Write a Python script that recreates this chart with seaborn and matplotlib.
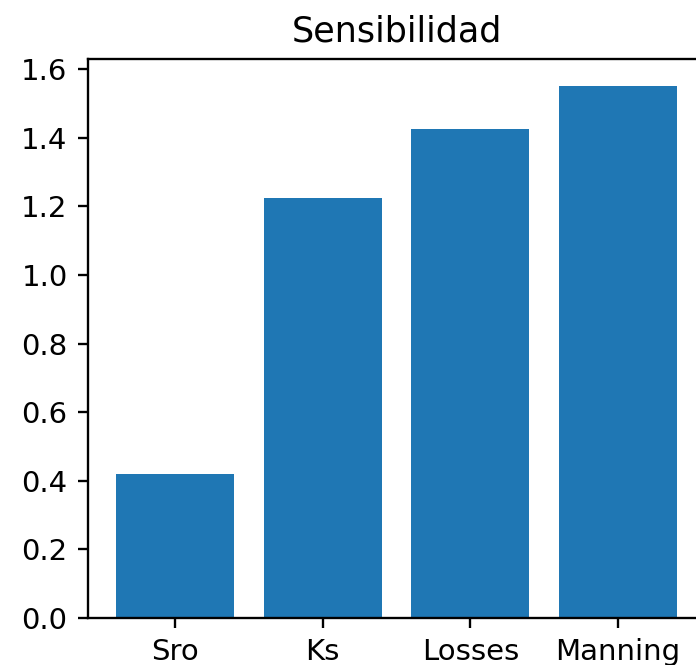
import matplotlib
matplotlib.use("Agg")
import matplotlib.pyplot as plt
import pandas as pd
import seaborn as sns

# Sensitivity index per model parameter
parametros = ["Sro", "Ks", "Losses", "Manning"]
sensibilidad = [0.419, 1.223, 1.426, 1.552]

df = pd.DataFrame({"parametro": parametros, "sensibilidad": sensibilidad})

dpi = 210
fig = plt.figure(figsize=(696 / dpi, 665 / dpi), dpi=dpi)
ax = fig.add_axes([88 / 696, 47 / 665, (705 - 88) / 696, (618 - 59) / 665])

sns.barplot(data=df, x="parametro", y="sensibilidad", color="#1f77b4",
            saturation=1, width=0.8, ax=ax)

ax.set_xlim(-0.59, 3.59)
ax.set_ylim(0, 1.05 * max(sensibilidad))
ax.set_yticks([0.0, 0.2, 0.4, 0.6, 0.8, 1.0, 1.2, 1.4, 1.6])
ax.set_xlabel("")
ax.set_ylabel("")
ax.set_title("Sensibilidad")

fig.savefig("out.png", dpi=dpi)
